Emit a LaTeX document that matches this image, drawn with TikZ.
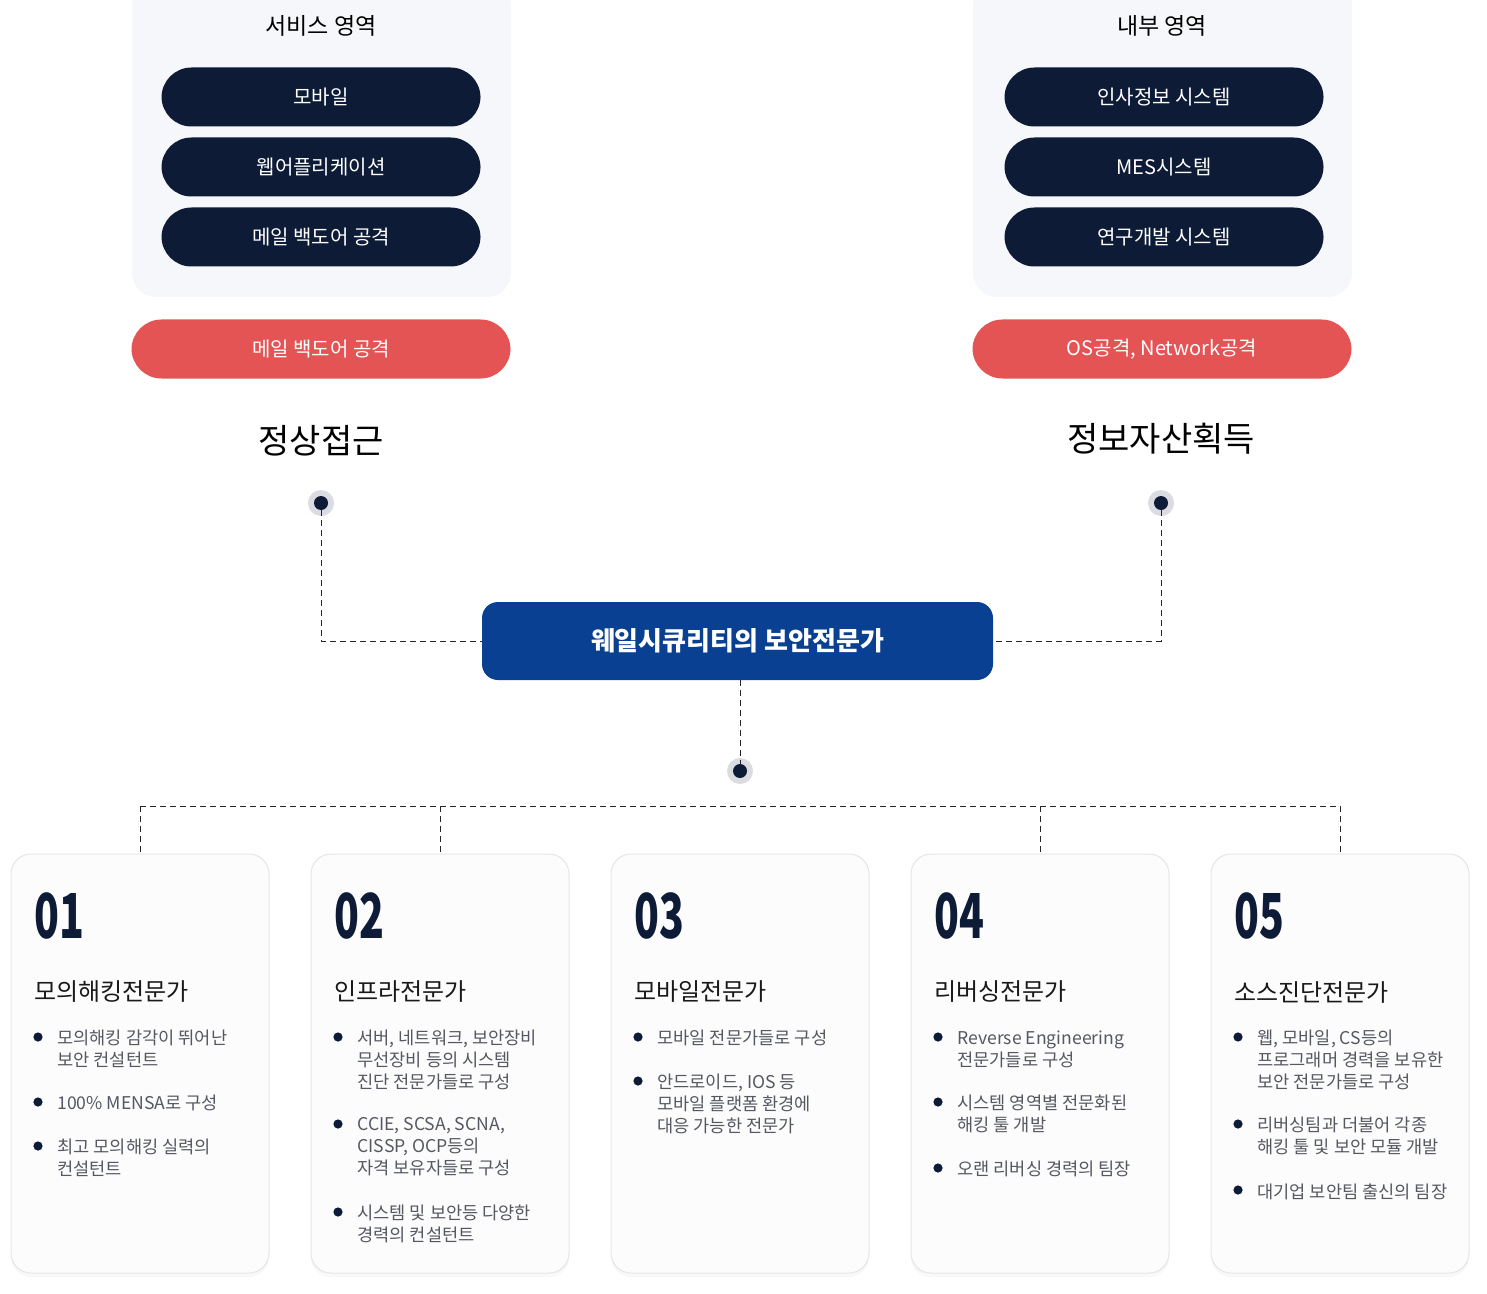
\documentclass[tikz,border=0pt]{standalone}
\usepackage{fontspec}
\setmainfont{Noto Sans CJK KR}
\usetikzlibrary{positioning,shadows,calc}
\definecolor{navy}{HTML}{0D1B36}
\definecolor{redpill}{HTML}{E45455}
\definecolor{royal}{HTML}{0A4091}
\definecolor{panel}{HTML}{F6F7FA}
\definecolor{cardline}{HTML}{E4E6EC}
\definecolor{graytext}{HTML}{555860}
\definecolor{dotring}{HTML}{DADCE2}
\tikzset{
  pill/.style={rounded corners=15pt, fill=navy, text=white, minimum width=159.5pt, minimum height=29.5pt, font=\fontsize{10}{12}\selectfont},
  redbox/.style={pill, fill=redpill, minimum width=189.5pt},
  area/.style={rounded corners=12pt, fill=panel},
  card/.style={rounded corners=10pt, fill=white!98!gray, draw=cardline, line width=0.5pt, drop shadow={shadow xshift=0pt, shadow yshift=-2pt, opacity=0.06}},
  link/.style={densely dashed, line width=0.5pt, black!85},
  bigno/.style={anchor=west, inner sep=0, text=navy, font=\fontsize{31}{31}\bfseries\selectfont, xscale=0.66},
  ttl/.style={anchor=west, inner sep=0, text=black!90, font=\fontsize{12}{14}\selectfont},
  btext/.style={anchor=north west, inner sep=0, align=left, text=graytext, font=\fontsize{8.8}{11}\selectfont},
}
\newcommand{\hub}[2]{%
  \fill[dotring] (#2) circle (6.5pt);
  \node[circle, fill=navy, inner sep=0, minimum size=7pt] (#1) at (#2) {};}
\newcommand{\bul}[4]{%
  \fill[navy] ($(#2,#3)+(-19,0)$) circle (2.3pt);
  \node[btext] (#1) at ($(#2,#3)+(0,-7)$) {#4};}
\begin{document}
\begin{tikzpicture}[x=0.5pt, y=-0.5pt]
\useasboundingbox (0,0) rectangle (1487,1294);
% upper areas
\fill[area] (132,-20) rectangle (511,297);
\fill[area] (973,-20) rectangle (1352,297);
\node[font=\fontsize{11.5}{13}\selectfont] (svc) at (321,26) {서비스 영역};
\node[font=\fontsize{11.5}{13}\selectfont] (inn) at (1162,26) {내부 영역};
\node[pill] (s1) at (321,97) {모바일};
\node[pill] (s2) at (321,167) {웹어플리케이션};
\node[pill] (s3) at (321,237) {메일 백도어 공격};
\node[pill] (i1) at (1164,97) {인사정보 시스템};
\node[pill] (i2) at (1164,167) {MES시스템};
\node[pill] (i3) at (1164,237) {연구개발 시스템};
\node[redbox] (ra) at (321,349) {메일 백도어 공격};
\node[redbox] (rb) at (1162,349) {OS공격, Network공격};
\node[font=\fontsize{17}{19}\selectfont] (norm) at (321,441) {정상접근};
\node[font=\fontsize{17}{19}\selectfont] (asset) at (1161,439) {정보자산획득};
% hub and links
\node[rounded corners=8pt, fill=royal, text=white, minimum width=255.5pt, minimum height=39pt, font=\fontsize{13}{15}\bfseries\selectfont] (main) at (737.5,641) {웨일시큐리티의 보안전문가};
\hub{dl}{321,503}
\hub{dr}{1161,503}
\hub{dc}{740,771}
\draw[link] (dl) |- (main.west);
\draw[link] (dr) |- (main.east);
\draw[link] (main.south -| dc) -- (dc);
\coordinate (bar1) at (140,806);
\coordinate (bar5) at (1340,806);
\draw[link] (bar1) -- (bar5);
% cards
\foreach \x/\n in {11/1,311/2,611/3,911/4,1211/5}{
  \fill[white] (\x,854) rectangle ++(258,419);
  \draw[card] (\x,854) rectangle ++(258,419);
  \node[bigno] (no\n) at (\x+23,916) {0\n};
}
\foreach \x in {140,440,1040,1340}
  \draw[link] (\x,806) -- (\x,854);
\node[ttl] (t1) at (34,992) {모의해킹전문가};
\node[ttl] (t2) at (334,992) {인프라전문가};
\node[ttl] (t3) at (634,992) {모바일전문가};
\node[ttl] (t4) at (934,992) {리버싱전문가};
\node[ttl] (t5) at (1234,992) {소스진단전문가};
% card 1
\bul{a1}{57}{1037}{모의해킹 감각이 뛰어난\\보안 컨설턴트}
\bul{a2}{57}{1102}{100\% MENSA로 구성}
\bul{a3}{57}{1146}{최고 모의해킹 실력의\\컨설턴트}
% card 2
\bul{b1}{357}{1037}{서버, 네트워크, 보안장비\\무선장비 등의 시스템\\진단 전문가들로 구성}
\bul{b2}{357}{1124}{CCIE, SCSA, SCNA,\\CISSP, OCP등의\\자격 보유자들로 구성}
\bul{b3}{357}{1212}{시스템 및 보안등 다양한\\경력의 컨설턴트}
% card 3
\bul{c1}{657}{1037}{모바일 전문가들로 구성}
\bul{c2}{657}{1081}{안드로이드, IOS 등\\모바일 플랫폼 환경에\\대응 가능한 전문가}
% card 4
\bul{d1}{957}{1037}{Reverse Engineering\\전문가들로 구성}
\bul{d2}{957}{1102}{시스템 영역별 전문화된\\해킹 툴 개발}
\bul{d3}{957}{1168}{오랜 리버싱 경력의 팀장}
% card 5
\bul{e1}{1257}{1037}{웹, 모바일, CS등의\\프로그래머 경력을 보유한\\보안 전문가들로 구성}
\bul{e2}{1257}{1124}{리버싱팀과 더불어 각종\\해킹 툴 및 보안 모듈 개발}
\bul{e3}{1257}{1190}{대기업 보안팀 출신의 팀장}
\end{tikzpicture}
\end{document}
